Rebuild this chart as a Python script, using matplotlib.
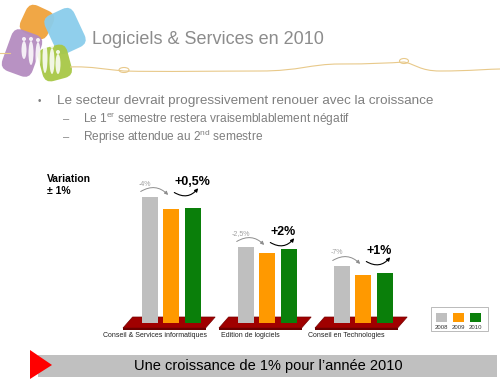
import numpy as np
import matplotlib.pyplot as plt
from matplotlib.patches import Rectangle, Polygon, Ellipse, PathPatch, FancyBboxPatch
from matplotlib.path import Path
from matplotlib.transforms import Affine2D

plt.rcParams['font.family'] = ['Liberation Sans', 'DejaVu Sans']
plt.rcParams['mathtext.fontset'] = 'custom'
plt.rcParams['mathtext.rm'] = 'Liberation Sans'

# ============
# Chart data
# ============

categories = ['Conseil & Services informatiques', 'Edition de logiciels', 'Conseil en Technologies']
years = ['2008', '2009', '2010']
values_2008 = [126, 76, 57]
values_2009 = [114, 70, 48]
values_2010 = [115, 74, 50]
change_2009 = ['-4%', '-2,5%', '-7%']
change_2010 = ['+0,5%', '+2%', '+1%']
colors = ['#bfbfbf', '#ff9900', '#0a7f0a']

title = 'Logiciels & Services en 2010'
bullet = 'Le secteur devrait progressivement renouer avec la croissance'
sub_bullets = [r'Le 1$^{\rm er}$ semestre restera vraisemblablement négatif',
               r'Reprise attendue au 2$^{\rm nd}$ semestre']
conclusion = "Une croissance de 1% pour l\u2019année 2010"

# ==========
# Main code
# ==========

fig = plt.figure(figsize=(5, 3.82), dpi=100)
bg = fig.add_axes([0, 0, 1, 1])
bg.set_xlim(0, 500)
bg.set_ylim(382, 0)
bg.axis('off')

# logo: four rounded tiles with white figures
for (cx, cy, w, h, a, c) in [(37, 22, 30, 30, 25, '#f0a23c'), (65, 31, 32, 42, -25, '#8acdeb'),
                             (22, 53, 32, 44, 20, '#b48cc0'), (55, 63, 30, 34, -15, '#a8c846')]:
    tile = FancyBboxPatch((cx - w / 2, cy - h / 2), w, h,
                          boxstyle='round,pad=0,rounding_size=9', fc=c, ec='none', alpha=0.95)
    tile.set_transform(Affine2D().rotate_deg_around(cx, cy, a) + bg.transData)
    bg.add_patch(tile)
for (px_, py_, hh) in [(24, 50, 18), (31, 53, 24), (38, 56, 28), (45, 58, 30), (52, 61, 26), (58, 64, 20)]:
    bg.add_patch(Ellipse((px_, py_), 5, hh, fc='white', ec='none', alpha=0.85))
    bg.add_patch(Ellipse((px_, py_ - hh / 2 - 2), 4, 4, fc='white', ec='none', alpha=0.85))

# wavy line under title
verts = [(70, 67), (90, 66), (110, 70), (124, 71),
         (160, 72), (220, 71), (260, 71),
         (300, 71), (310, 64), (340, 64),
         (370, 64), (390, 63), (404, 62),
         (415, 64), (420, 71), (440, 71),
         (470, 71), (490, 69), (500, 69)]
codes = [Path.MOVETO] + [Path.CURVE4] * (len(verts) - 1)
bg.add_patch(PathPatch(Path(verts, codes), fc='none', ec='#e8c98a', lw=0.8))
bg.add_patch(Ellipse((124, 70), 10, 5, fc='none', ec='#e8c98a', lw=0.8))
bg.add_patch(Ellipse((404, 61), 9, 5, fc='none', ec='#e8c98a', lw=0.8))
bg.plot([0, 10], [53, 53], color='#e8c98a', lw=0.8)

bg.text(92, 40, title, fontsize=13, color='#8c8c8c', va='center', ha='left')

bg.text(38, 101, '\u2022', fontsize=7, color='#808080', va='center')
bg.text(57, 101, bullet, fontsize=9.7, color='#7f7f7f', va='center')
for i, s in enumerate(sub_bullets):
    bg.text(63, 119 + 18 * i, '\u2013', fontsize=8, color='#808080', va='center')
    bg.text(83, 119 + 18 * i, s, fontsize=8.6, color='#7f7f7f', va='center')

bg.text(47, 179, 'Variation', fontsize=7.5, fontweight='bold', va='center')
bg.text(47, 191, '\u00b1 1%', fontsize=7.5, fontweight='bold', va='center')

# legend box
bg.add_patch(Rectangle((431, 307), 57, 24, fc='white', ec='#b0b0b0', lw=0.6))
for i, (yr, c) in enumerate(zip(years, colors)):
    bg.add_patch(Rectangle((436 + 17 * i, 313), 11, 9, fc=c, ec='none'))
    bg.text(441.5 + 17 * i, 327.5, yr, fontsize=4.3, ha='center', va='center', color='#333333')

# bottom banner
bg.add_patch(Rectangle((38, 355), 459, 22, fc='#c0c0c0', ec='none'))
bg.add_patch(Polygon([(30, 350), (52, 365), (30, 379)], fc='#ff0000', ec='none'))
bg.text(268, 366, conclusion, fontsize=10.5, ha='center', va='center', color='black')

# bar chart
px = 96.0
ax = fig.add_axes([100 / 500, (382 - 338) / 382, 320 / 500, (338 - 170) / 382])
ax.set_xlim(-71 / px, 249 / px)
ax.set_ylim(-15, 153)
ax.axis('off')

x = np.arange(len(categories))
w = 16 / px
off = 21.5 / px

for xi in x:
    ax.add_patch(Polygon([(xi - 0.40, 6), (xi + 0.46, 6), (xi + 0.36, -5), (xi - 0.50, -5)],
                         fc='#a00000', ec='#760000', lw=0.5, zorder=1))
    ax.add_patch(Polygon([(xi - 0.50, -5), (xi + 0.36, -5), (xi + 0.36, -6.5), (xi - 0.50, -6.5)],
                         fc='#6a0000', ec='none', zorder=1))

ax.bar(x - off, values_2008, w, color=colors[0], zorder=3)
ax.bar(x, values_2009, w, color=colors[1], zorder=3)
ax.bar(x + off, values_2010, w, color=colors[2], zorder=3)

for xi, h, lab_a, lab_b, cat in zip(x, values_2008, change_2009, change_2010, categories):
    ax.annotate('', xy=(xi - 0.01, h), xytext=(xi - 0.34, h + 4),
                arrowprops=dict(arrowstyle='-|>', color='#8c8c8c', lw=0.7,
                                connectionstyle='arc3,rad=-0.45', mutation_scale=5))
    ax.annotate('', xy=(xi + 0.30, h + 11), xytext=(xi + 0.01, h + 6),
                arrowprops=dict(arrowstyle='-|>', color='black', lw=0.8,
                                connectionstyle='arc3,rad=0.5', mutation_scale=5))
    ax.text(xi - 0.27, h + 13, lab_a, fontsize=5, color='#a0a0a0', ha='center', va='center')
    ax.text(xi + 0.04, h + 15, lab_b, fontsize=9, fontweight='bold', ha='left', va='center')
    ax.text(xi - 0.17, -12.5, cat, fontsize=5, ha='center', va='center', color='#222222')

fig.savefig('out.png', dpi=100)
